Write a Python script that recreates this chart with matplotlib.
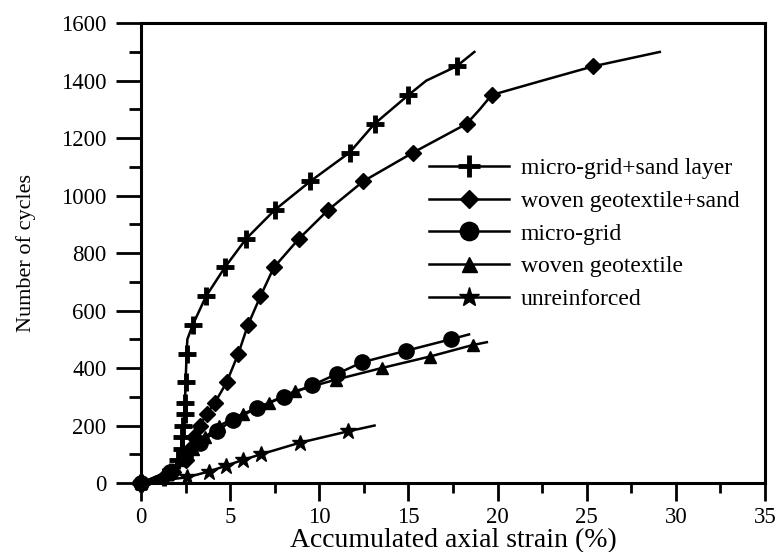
import numpy as np
import matplotlib
matplotlib.use('Agg')
import matplotlib.pyplot as plt
from matplotlib.ticker import MultipleLocator

plt.rcParams["font.family"] = "Liberation Serif"
plt.rcParams["font.size"] = 15

# micro-grid + sand layer
mgs_x = [0, 1.3, 1.7, 2.1, 2.28, 2.3, 2.37, 2.45, 2.47, 2.5, 2.56, 2.6, 2.9, 3.65,
         4.7, 5.9, 7.5, 9.5, 11.7, 13.1, 15.0, 16.0, 17.7, 18.7]
mgs_y = [0, 20, 40, 80, 120, 160, 200, 240, 280, 350, 450, 500, 550, 650,
         750, 850, 950, 1050, 1150, 1250, 1350, 1400, 1450, 1500]
mgs_mark = [0, 1, 2, 3, 4, 5, 6, 7, 8, 9, 10, 12, 13, 14, 15, 16, 17, 18, 19, 20, 22]

# woven geotextile + sand
wgs_x = [0, 1.3, 1.8, 2.5, 2.75, 3.0, 3.3, 3.68, 4.15, 4.8, 5.46, 6.0, 6.7, 7.45,
         8.86, 10.5, 12.47, 15.27, 18.27, 19.0, 19.67, 22.5, 25.37, 29.1]
wgs_y = [0, 20, 40, 80, 120, 160, 200, 240, 280, 350, 450, 550, 650, 750,
         850, 950, 1050, 1150, 1250, 1300, 1350, 1400, 1450, 1500]
wgs_mark = [0, 1, 2, 3, 4, 5, 6, 7, 8, 9, 10, 11, 12, 13, 14, 15, 16, 17, 18, 20, 22]

# micro-grid
mg_x = [0, 1.6, 2.45, 3.3, 4.24, 5.18, 6.5, 8.0, 9.6, 11.0, 12.4, 14.86, 17.37, 18.4]
mg_y = [0, 40, 90, 140, 180, 220, 260, 300, 340, 380, 420, 460, 500, 517]

# woven geotextile
wg_x = [0, 1.5, 2.3, 2.9, 3.6, 4.4, 5.7, 7.2, 8.65, 10.95, 13.5, 16.2, 18.6, 19.4]
wg_y = [0, 40, 80, 120, 160, 200, 240, 280, 320, 360, 400, 440, 480, 490]

# unreinforced
ur_x = [0, 2.6, 3.8, 4.77, 5.7, 6.73, 8.9, 11.63, 13.1]
ur_y = [0, 20, 40, 60, 80, 100, 140, 180, 200]

fig = plt.figure(figsize=(7.79, 5.52), dpi=100)
ax = fig.add_axes([0.181, 0.125, 0.801, 0.833])

kw = dict(color='black', lw=1.8, clip_on=False)
ax.plot(mgs_x, mgs_y, marker='+', ms=13, mew=3.5, markevery=mgs_mark,
        label='micro-grid+sand layer', **kw)
ax.plot(wgs_x, wgs_y, marker='D', ms=8, markevery=wgs_mark,
        label='woven geotextile+sand', **kw)
ax.plot(wg_x, wg_y, marker='^', ms=9, markevery=list(range(len(wg_x) - 1)),
        label='woven geotextile', **kw)
ax.plot(ur_x, ur_y, marker='*', ms=12, markevery=list(range(len(ur_x) - 1)),
        label='unreinforced', **kw)
ax.plot(mg_x, mg_y, marker='o', ms=11, markevery=list(range(len(mg_x) - 1)),
        label='micro-grid', **kw)

ax.set_xlim(0, 35)
ax.set_ylim(0, 1600)
ax.xaxis.set_major_locator(MultipleLocator(5))
ax.xaxis.set_minor_locator(MultipleLocator(2.5))
ax.yaxis.set_major_locator(MultipleLocator(200))
ax.yaxis.set_minor_locator(MultipleLocator(100))

for s in ax.spines.values():
    s.set_linewidth(2.2)
ax.tick_params(axis='y', which='major', direction='out', length=18, width=2, pad=7, labelsize=16.5)
ax.tick_params(axis='y', which='minor', direction='out', length=9, width=2)
ax.tick_params(axis='x', which='major', direction='out', length=13, width=2, pad=4, labelsize=16.5)
ax.tick_params(axis='x', which='minor', direction='out', length=7, width=2)

ax.set_xlabel('Accumulated axial strain (%)', fontsize=20, labelpad=0)
ax.set_ylabel('Number of cycles', fontsize=16, labelpad=18)

h, l = ax.get_legend_handles_labels()
order = [0, 1, 4, 2, 3]
leg = ax.legend([h[i] for i in order], [l[i] for i in order],
                loc='upper left', bbox_to_anchor=(0.442, 0.733), frameon=False,
                fontsize=17, handlelength=3.4, labelspacing=0.47, borderpad=0,
                handletextpad=0.5, markerscale=1.2)

fig.savefig('out.png', dpi=100)
